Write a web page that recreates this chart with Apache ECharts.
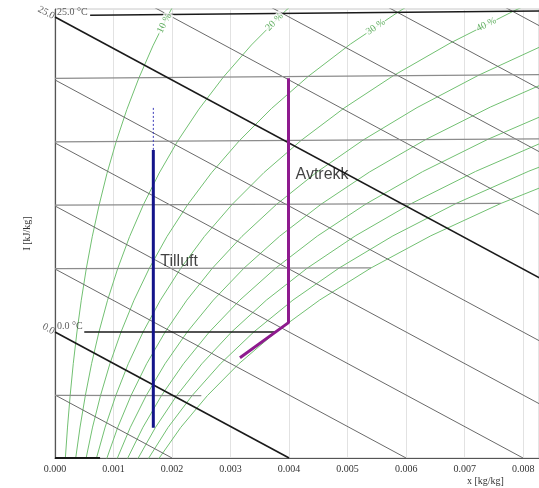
<!DOCTYPE html>
<html><head><meta charset="utf-8">
<script src="https://cdn.jsdelivr.net/npm/echarts@6/dist/echarts.min.js"></script>
<style>html,body{margin:0;padding:0;background:#fff}#c{width:539px;height:488px}</style>
</head><body><div id="c"></div>
<script>
// ---- Relative humidity curves: [x (kg/kg), chart ordinate] ----
const rh10 = [[0.000176,-10.063],[0.000214,-7.545],[0.000259,-5.03],[0.000312,-2.515],[0.000375,0],[0.000449,2.517],[0.000535,5.035],[0.000636,7.554],[0.000754,10.074],[0.000889,12.596],[0.001046,15.119],[0.001227,17.645],[0.001435,20.173],[0.001673,22.705],[0.001945,25.24],[0.002064,26.256]];
const rh20 = [[0.000352,-10.067],[0.000428,-7.546],[0.000519,-5.033],[0.000625,-2.518],[0.000751,0],[0.000898,2.519],[0.001072,5.04],[0.001274,7.563],[0.001509,10.088],[0.001781,12.616],[0.002096,15.148],[0.00246,17.685],[0.002877,20.227],[0.003356,22.775],[0.003904,25.332],[0.004145,26.356]];
const rh30 = [[0.000529,-10.07],[0.000642,-7.548],[0.000778,-5.037],[0.000938,-2.519],[0.001128,0],[0.00135,2.521],[0.00161,5.045],[0.001913,7.572],[0.002266,10.102],[0.002675,12.637],[0.00315,15.178],[0.003697,17.725],[0.004326,20.281],[0.005048,22.846],[0.005875,25.423],[0.006238,26.46]];
const rh40 = [[0.000705,-10.073],[0.000857,-7.55],[0.001039,-5.04],[0.001252,-2.521],[0.001505,0],[0.0018,2.523],[0.002148,5.05],[0.002553,7.581],[0.003025,10.116],[0.003572,12.658],[0.004207,15.207],[0.004939,17.766],[0.005781,20.335],[0.006749,22.917],[0.007858,25.515],[0.008344,26.56]];
const rh50 = [[0.000882,-10.076],[0.001073,-7.555],[0.001299,-5.042],[0.001566,-2.522],[0.001882,0],[0.002252,2.525],[0.002688,5.055],[0.003195,7.59],[0.003786,10.13],[0.004472,12.679],[0.005267,15.237],[0.006186,17.806],[0.007244,20.39],[0.008459,22.989]];
const rh60 = [[0.001059,-10.08],[0.001288,-7.558],[0.001559,-5.044],[0.00188,-2.524],[0.002259,0],[0.002705,2.526],[0.003228,5.06],[0.003838,7.599],[0.004549,10.145],[0.005375,12.7],[0.006332,15.267],[0.007438,17.847],[0.008712,20.444]];
const rh70 = [[0.001235,-10.083],[0.001503,-7.561],[0.001819,-5.047],[0.002195,-2.525],[0.002637,0],[0.003158,2.528],[0.003769,5.065],[0.004482,7.608],[0.005313,10.159],[0.00628,12.721],[0.007399,15.296],[0.008695,17.888]];
const rh80 = [[0.001412,-10.086],[0.001718,-7.564],[0.00208,-5.049],[0.002509,-2.527],[0.003017,0],[0.003612,2.53],[0.004311,5.07],[0.005128,7.617],[0.00608,10.173],[0.007187,12.742],[0.008471,15.326]];
const rh90 = [[0.00159,-10.09],[0.001933,-7.567],[0.002342,-5.052],[0.002825,-2.529],[0.003396,0],[0.004066,2.532],[0.004855,5.075],[0.005774,7.627],[0.006848,10.187],[0.008097,12.763],[0.009547,15.356]];
const rh100 = [[0.001767,-10.093],[0.002149,-7.57],[0.002603,-5.054],[0.00314,-2.53],[0.003775,0],[0.004522,2.535],[0.005399,5.08],[0.006422,7.634],[0.007619,10.202],[0.00901,12.784]];
const rhLabels = ['10 %','20 %','30 %','40 %'];
const rhLabelPoints = [[0.00187,24.5],[0.00375,24.6],[0.00548,24.2],[0.00737,24.4]];

// ---- Enthalpy lines (kJ/kg): start on left axis, end point ----
const enthalpyValues = [-5,0,5,10,15,20,25,30,35,40,45];
const enthalpyEnds = [[0.001999,-10],[0.004,-10.004],[0.006,-10.006],[0.008,-10.008],[0.009,-7.51],[0.009,-2.51],[0.009,2.49],[0.009,7.49],[0.009,12.49],[0.009,17.49],[0.009,22.49]];
const enthalpyLabelValues = [25,0];
const enthalpyLabels = ['25.0','0.0'];

// ---- Isotherms ----
const iso25 = [[0.0006,25.13],[0.009,25.5]];
const iso20 = [[0,20.12],[0.009,20.45]];
const iso15 = [[0,15.09],[0.009,15.34]];
const iso10 = [[0,10.06],[0.00762,10.2]];
const iso5 = [[0,5.03],[0.0054,5.08]];
const iso0 = [[0.0005,0],[0.00377,0]];
const isoM5 = [[0,-5.03],[0.0025,-5.05]];
const isoM10 = [[0,-10],[0.00077,-10]];
const isoLabels = ['25.0 °C','0.0 °C'];
const isoLabelPoints = [[0,25.13],[0,0]];

// ---- Process lines ----
const tilluft = [[0.00168,-7.6],[0.00168,14.45]];
const tilluftDotted = [[0.00168,14.45],[0.00168,17.9]];
const avtrekk = [[0.00316,-2.05],[0.00399,0.74],[0.00399,20.13]];
const processNames = ['Tilluft','Avtrekk'];
const processLabelPoints = [[0.00168,5.56],[0.00399,12.46]];

// ---- Axis ----
const xTickStep = 0.001;
const xMin = 0, xMax = 0.00827, yMin = -10, yMax = 25.63;

const SERIF = '"Liberation Serif", "DejaVu Serif", serif';
function line(data, color, width, extra) {
  return Object.assign({type:'line', data:data, symbol:'none', silent:true, animation:false,
    lineStyle:{color:color, width:width}}, extra||{});
}
const series = [];
const rhColor = '#72c072';
[rh10,rh20,rh30,rh40,rh50,rh60,rh70,rh80,rh90,rh100].forEach(c => series.push(line(c, rhColor, 1, {z:2})));
enthalpyValues.forEach((h,i) => {
  const bold = (h === 0 || h === 25);
  series.push(line([[0,h], enthalpyEnds[i]], bold ? '#1a1a1a' : '#6a6a6a', bold ? 1.6 : 1, {z: bold?4:3}));
});
[iso20,iso15,iso10,iso5,isoM5].forEach(d => series.push(line(d, '#8c8c8c', 1.3, {z:3})));
series.push(line(iso25, '#1a1a1a', 1.6, {z:4}));
series.push(line(iso0, '#1a1a1a', 1.6, {z:4}));
series.push(line(isoM10, '#1a1a1a', 1.8, {z:4, clip:false}));
series.push(line(tilluftDotted, '#3a3ab8', 1, {z:6, lineStyle:{color:'#3a3ab8', width:1, type:[2,2]}}));
series.push(line(tilluft, '#14148a', 3, {z:7}));
series.push(line(avtrekk, '#8e1a8e', 3, {z:7}));

// RH labels
const rhRot = [63, 45, 34, 27];
series.push({type:'scatter', symbolSize:0, silent:true, animation:false, z:5,
  data: rhLabelPoints.map((p,i) => ({value:p, label:{show:true, formatter:rhLabels[i], rotate:rhRot[i],
    position:'inside', color:'#3a9a3a', fontFamily:SERIF, fontSize:10, backgroundColor:'#fff', padding:[0,1]}}))});
// Enthalpy labels
series.push({type:'scatter', symbolSize:0, silent:true, animation:false, z:5,
  data: enthalpyLabelValues.map((h,i) => ({value:[0,h], label:{show:true, formatter:enthalpyLabels[i], rotate:-28.5,
    position:'left', distance:1, color:'#333', fontFamily:SERIF, fontSize:10}}))});
// Isotherm labels
const isoOff = [[1,-3],[1,-6]];
series.push({type:'scatter', symbolSize:0, silent:true, animation:false, z:5,
  data: isoLabelPoints.map((p,i) => ({value:p, label:{show:true, formatter:isoLabels[i], position:'right', distance:1,
    offset:isoOff[i], color:'#333', fontFamily:SERIF, fontSize:10}}))});
// Process labels
series.push({type:'scatter', symbolSize:0, silent:true, animation:false, z:8,
  data: processLabelPoints.map((p,i) => ({value:p, label:{show:true, formatter:processNames[i], position:'right', distance:7,
    color:'#111', fontFamily:'"Liberation Sans", Arial, sans-serif', fontSize:16}}))});

const chart = echarts.init(document.getElementById('c'), null, {renderer:'canvas'});
chart.setOption({
  animation:false,
  backgroundColor:'#fff',
  grid:{left:55, right:0, top:9, bottom:30, show:true, borderColor:'#c8c8c8', borderWidth:1, containLabel:false},
  xAxis:{type:'value', min:xMin, max:xMax, interval:xTickStep,
    axisLine:{show:true, onZero:false, lineStyle:{color:'#555', width:1.2}}, axisTick:{show:false},
    splitLine:{show:true, lineStyle:{color:'#e2e2e2', width:1}},
    axisLabel:{showMaxLabel:false, margin:6, color:'#333', fontFamily:SERIF, fontSize:10,
      formatter: v => (Math.abs(v/xTickStep - Math.round(v/xTickStep)) < 1e-6 ? v.toFixed(3) : '')}},
  yAxis:{type:'value', min:yMin, max:yMax, name:'I [kJ/kg]', nameLocation:'middle', nameGap:23,
    nameTextStyle:{color:'#333', fontFamily:SERIF, fontSize:10},
    axisLine:{show:true, onZero:false, lineStyle:{color:'#555', width:1.2}}, axisTick:{show:false},
    axisLabel:{show:false}, splitLine:{show:false}},
  graphic:[{type:'text', left:467, top:476, style:{text:'x [kg/kg]', font:'10px "Liberation Serif"', fill:'#333'}}],
  series: series
});
</script></body></html>
